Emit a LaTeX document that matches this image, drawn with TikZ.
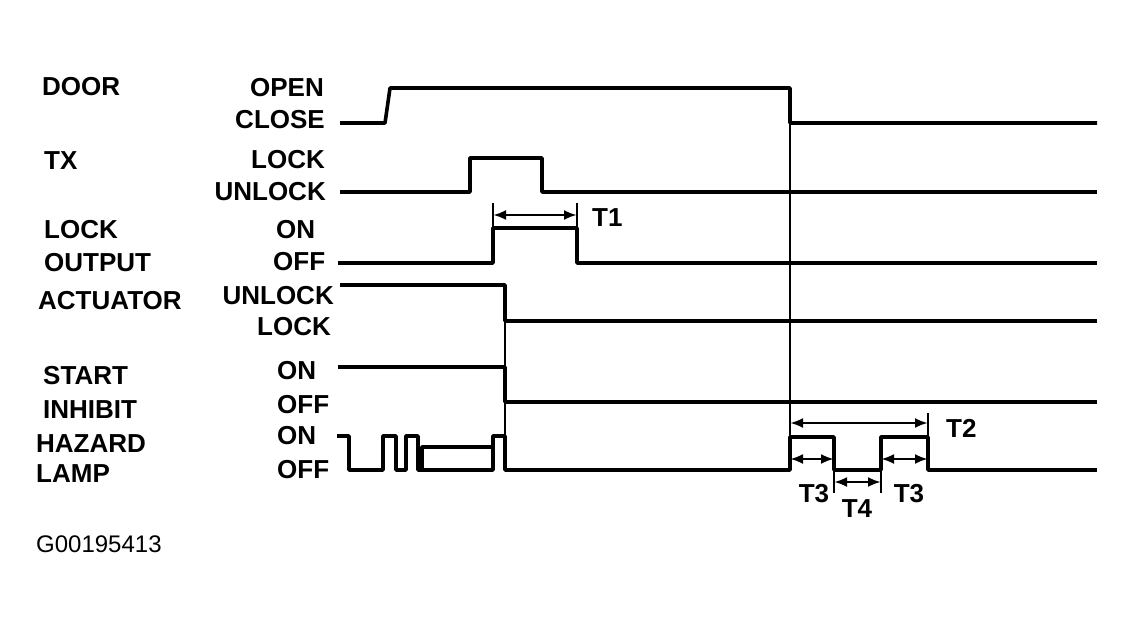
\documentclass[tikz,border=0pt]{standalone}
\usepackage{fontspec}
\setmainfont{Liberation Sans}
\usepackage{tikz}
\usetikzlibrary{arrows.meta}

\begin{document}
\begin{tikzpicture}[x=1pt, y=-1pt,
  wave/.style={line width=3.6pt, line join=round},
  guide/.style={line width=2.8pt},
  span/.style={line width=2.6pt, {Latex[length=13pt,width=10pt]}-{Latex[length=13pt,width=10pt]}},
  signame/.style={font=\fontsize{26}{28}\selectfont\bfseries, anchor=west, inner sep=0pt},
  levelr/.style={font=\fontsize{26}{28}\selectfont\bfseries, anchor=east, inner sep=0pt},
  levell/.style={font=\fontsize{26}{28}\selectfont\bfseries, anchor=west, inner sep=0pt},
  tlabel/.style={font=\fontsize{26}{28}\selectfont\bfseries, inner sep=0pt}]
  \useasboundingbox (0,0) rectangle (1135,628);
  \node[signame] (door) at (42,87) {DOOR};
  \node[signame] (tx) at (44,161) {TX};
  \node[signame] (lock) at (44,230) {LOCK};
  \node[signame] (output) at (44,263) {OUTPUT};
  \node[signame] (actuator) at (38,301) {ACTUATOR};
  \node[signame] (start) at (43,376) {START};
  \node[signame] (inhibit) at (43,410) {INHIBIT};
  \node[signame] (hazard) at (36,444) {HAZARD};
  \node[signame] (lamp) at (36,474) {LAMP};
  \node[levelr] (doorOpen) at (324,88) {OPEN};
  \node[levelr] (doorClose) at (325,120) {CLOSE};
  \node[levelr] (txLock) at (325,160) {LOCK};
  \node[levelr] (txUnlock) at (326,192) {UNLOCK};
  \node[levell] (outOn) at (276,230) {ON};
  \node[levell] (outOff) at (273,262) {OFF};
  \node[levelr] (actUnlock) at (334,296) {UNLOCK};
  \node[levelr] (actLock) at (331,327) {LOCK};
  \node[levell] (inhOn) at (277,371) {ON};
  \node[levell] (inhOff) at (277,405) {OFF};
  \node[levell] (hazOn) at (277,436) {ON};
  \node[levell] (hazOff) at (277,470) {OFF};
  \node[anchor=west, inner sep=0pt, font=\fontsize{24}{26}\selectfont] (figid) at (36,544) {G00195413};
  \draw[wave] (340,123) -- (385,123) -- (390,88) -- (790,88) -- (790,123) -- (1097,123);
  \draw[wave] (340,192) -- (470,192) -- (470,158) -- (542,158) -- (542,192) -- (1097,192);
  \draw[wave] (338,263) -- (493,263) -- (493,228) -- (577,228) -- (577,263) -- (1097,263);
  \draw[wave] (340,285) -- (505,285) -- (505,321) -- (1097,321);
  \draw[wave] (338,367) -- (505,367) -- (505,402) -- (1097,402);
  \draw[wave] (337,436) -- (349,436) -- (349,470) -- (383,470) -- (383,436) -- (396,436) -- (396,470)
    -- (406,470) -- (406,436) -- (418,436) -- (418,470) -- (493,470) -- (493,436) -- (505,436) -- (505,470)
    -- (790,470) -- (790,437) -- (834,437) -- (834,470) -- (881,470) -- (881,437) -- (928,437) -- (928,470)
    -- (1097,470);
  \draw[wave] (422,470) -- (422,447) -- (493,447);
  \draw[guide] (505,285) -- (505,470);
  \draw[guide] (790,123) -- (790,470);
  \draw[guide] (493,228) -- (493,203);
  \draw[guide] (577,228) -- (577,203);
  \draw[span] (493,215) -- (577,215);
  \node[tlabel, anchor=west] (t1) at (592,218) {T1};
  \draw[guide] (928,437) -- (928,413);
  \draw[span] (790,423) -- (928,423);
  \node[tlabel, anchor=west] (t2) at (946,428) {T2};
  \draw[span] (790,459) -- (834,459);
  \draw[span] (881,459) -- (928,459);
  \draw[guide] (834,470) -- (834,493);
  \draw[guide] (881,470) -- (881,493);
  \draw[span] (834,482) -- (881,482);
  \node[tlabel] (t3a) at (814,494) {T3};
  \node[tlabel] (t4) at (857,509) {T4};
  \node[tlabel] (t3b) at (909,494) {T3};
\end{tikzpicture}
\end{document}
